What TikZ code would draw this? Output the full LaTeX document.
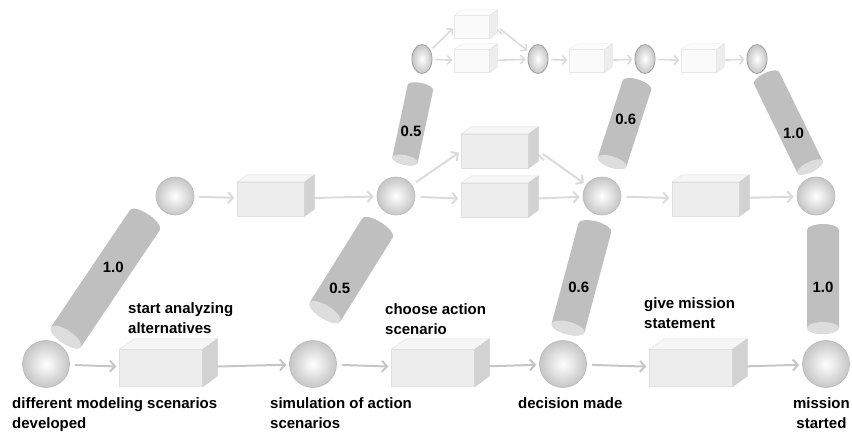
\documentclass[tikz,border=0pt]{standalone}
\usepackage{fontspec}
\setmainfont{Liberation Sans}
\usetikzlibrary{shapes.geometric,arrows.meta,backgrounds}

\tikzset{
  face/.style={draw=gray!25, fill=gray!14},
  lid/.style={draw=gray!25, fill=gray!7},
  flank/.style={draw=gray!40, fill=gray!35},
  pale/.style={face/.style={draw=gray!18, fill=gray!4}, lid/.style={draw=gray!18, fill=gray!2}, flank/.style={draw=gray!22, fill=gray!14}},
  num/.style={font=\bfseries\fontsize{15}{15}\selectfont, inner sep=0pt},
  pics/tube/.style n args={4}{code={
    \fill[gray!50] (0,-#2) -- (#1,-#2) arc[start angle=-90, end angle=90, x radius=0.37*#2, y radius=#2]
      -- (0,#2) arc[start angle=90, end angle=270, x radius=0.37*#2, y radius=#2] -- cycle;
    \fill[gray!27] (0,0) ellipse[x radius=0.37*#2, y radius=#2];
    \node[num] at (#4*#1,0) {#3};
  }}
}

\newcommand{\crate}[6][]{%
  \begin{scope}[#1]
    \node[face, inner sep=0pt, minimum width=#4pt, minimum height=#5pt] (#2) at #3 {};
    \filldraw[lid] (#2.north west) -- ++(#6,-0.7*#6) -- ++(#4,0) -- (#2.north east) -- cycle;
    \filldraw[flank] (#2.north east) -- ++(#6,-0.7*#6) -- ++(0,#5) -- (#2.south east) -- cycle;
  \end{scope}}

\begin{document}
\begin{tikzpicture}[x=1pt, y=-1pt,
  orb/.style={circle, inner sep=0pt, minimum size=#1, inner color=white, outer color=gray!45, draw=gray!55, line width=0.6pt},
  seed/.style={ellipse, inner sep=0pt, minimum width=20pt, minimum height=29pt, inner color=white, outer color=gray!45, draw=gray!75, line width=0.8pt},
  flow/.style={draw=gray!45, line width=2pt, -{Straight Barb[length=5pt, width=11pt]}, shorten >=3pt, shorten <=5pt},
  faint/.style={flow, draw=gray!28},
  thin/.style={faint, line width=1.6pt, -{Straight Barb[length=4pt, width=9pt]}, shorten <=3pt, shorten >=2pt},
  note/.style={font=\bfseries\fontsize{15}{20}\selectfont, align=left, inner sep=0pt}]
\useasboundingbox (0,0) rectangle (852,432);

\pic[rotate=56] at (66,337) {tube={141}{18}{1.0}{0.6}};
\pic[rotate=58] at (325,312) {tube={99}{18}{0.5}{0.28}};
\pic[rotate=78] at (405,160) {tube={74}{13}{0.5}{0.4}};
\pic[rotate=72] at (612,162) {tube={81}{15}{0.6}{0.55}};
\pic[rotate=116] at (810,167) {tube={99}{14}{1.0}{0.38}};
\pic[rotate=75] at (568,328) {tube={104}{17}{0.6}{0.4}};
\pic[rotate=90] at (823,328) {tube={98}{16}{1.0}{0.41}};

\node[seed] (t1) at (422,59) {};
\node[seed] (t2) at (538,59) {};
\node[seed] (t3) at (645,59) {};
\node[seed] (t4) at (757,59) {};
\crate[pale]{tu}{(472,27)}{35}{23}{8}
\crate[pale]{tl}{(472,61)}{35}{23}{8}
\crate[pale]{tb}{(587,61)}{35}{23}{8}
\crate[pale]{tc}{(699,61)}{35}{23}{8}

\node[orb=38pt] (m1) at (175,196) {};
\node[orb=38pt] (m2) at (396,196) {};
\node[orb=38pt] (m3) at (602,196) {};
\node[orb=38pt] (m4) at (816,196) {};
\crate{ma}{(271,199)}{67}{34}{10}
\crate{mu}{(495,151)}{67}{34}{10}
\crate{ml}{(495,200)}{67}{34}{10}
\crate{mb}{(706,199)}{67}{34}{10}

\node[orb=47pt] (dev) at (46,364) {};
\node[orb=47pt] (sim) at (313,364) {};
\node[orb=47pt] (dec) at (563,364) {};
\node[orb=47pt] (mis) at (826,364) {};
\crate{ba}{(161,368)}{83}{37}{15}
\crate{bb}{(433,368)}{83}{37}{15}
\crate{bc}{(691,368)}{83}{37}{15}

\begin{scope}[on background layer]
\path[thin]
(t1) edge (tu.west)
     edge (tl)
([xshift=8pt]tu.east) edge (t2)
(tl) edge (t2)
(t2) edge (tb)
(tb) edge (t3)
(t3) edge (tc)
(tc) edge (t4);
\path[faint]
(m1) edge (ma)
(ma) edge (m2)
(m2) edge (mu.west)
     edge (ml)
([xshift=10pt]mu.east) edge (m3)
(ml) edge (m3)
(m3) edge (mb)
(mb) edge (m4);
\path[flow]
(dev) edge (ba)
(ba) edge (sim)
(sim) edge (bb)
(bb) edge (dec)
(dec) edge (bc)
(bc) edge (mis);
\end{scope}

\node[note, anchor=north west] (devtxt) at (12,397) {different modeling scenarios\\developed};
\node[note, anchor=north west] (simtxt) at (270,397) {simulation of action\\scenarios};
\node[note, anchor=north west] (dectxt) at (518,397) {decision made};
\node[note, anchor=north east, align=center] (mistxt) at (850,397) {mission\\started};
\node[note, anchor=north west] (batxt) at (128,302) {start analyzing\\alternatives};
\node[note, anchor=north west] (bbtxt) at (385,303) {choose action\\scenario};
\node[note, anchor=north west] (bctxt) at (644,297) {give mission\\statement};
\end{tikzpicture}
\end{document}
